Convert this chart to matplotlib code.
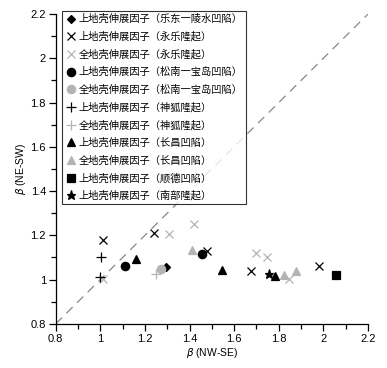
import matplotlib
matplotlib.use("Agg")
import matplotlib.pyplot as plt

plt.rcParams['font.family'] = ['Liberation Sans', 'Noto Sans CJK SC', 'DejaVu Sans']
plt.rcParams['axes.unicode_minus'] = False

# values
ldlsx_up_x = [1.296]
ldlsx_up_y = [1.057]
yl_up_x = [1.01, 1.241, 1.478, 1.677, 1.979]
yl_up_y = [1.18, 1.212, 1.131, 1.039, 1.062]
yl_all_x = [1.012, 1.308, 1.42, 1.70, 1.748, 1.845]
yl_all_y = [1.002, 1.205, 1.252, 1.122, 1.103, 1.003]
snbd_up_x = [1.111, 1.456]
snbd_up_y = [1.062, 1.115]
snbd_all_x = [1.271]
snbd_all_y = [1.048]
sh_up_x = [1.005, 0.998]
sh_up_y = [1.10, 1.011]
sh_all_x = [1.249]
sh_all_y = [1.024]
cc_up_x = [1.162, 1.544, 1.781]
cc_up_y = [1.092, 1.045, 1.015]
cc_all_x = [1.413, 1.824, 1.879]
cc_all_y = [1.134, 1.021, 1.039]
sd_up_x = [2.057]
sd_up_y = [1.021]
nb_up_x = [1.757]
nb_up_y = [1.023]

labels = [
    "上地壳伸展因子（乐东一陵水凹陷）",
    "上地壳伸展因子（永乐隆起）",
    "全地壳伸展因子（永乐隆起）",
    "上地壳伸展因子（松南一宝岛凹陷）",
    "全地壳伸展因子（松南一宝岛凹陷）",
    "上地壳伸展因子（神狐隆起）",
    "全地壳伸展因子（神狐隆起）",
    "上地壳伸展因子（长昌凹陷）",
    "全地壳伸展因子（长昌凹陷）",
    "上地壳伸展因子（顺德凹陷）",
    "上地壳伸展因子（南部隆起）",
]

black = "black"
gray = "#b4b4b4"

series = [
    (ldlsx_up_x, ldlsx_up_y, "D", black, 4.5),
    (yl_up_x, yl_up_y, "x", black, 6),
    (yl_all_x, yl_all_y, "x", gray, 6),
    (snbd_up_x, snbd_up_y, "o", black, 6),
    (snbd_all_x, snbd_all_y, "o", gray, 6),
    (sh_up_x, sh_up_y, "+", black, 6.5),
    (sh_all_x, sh_all_y, "+", gray, 6.5),
    (cc_up_x, cc_up_y, "^", black, 5.5),
    (cc_all_x, cc_all_y, "^", gray, 5.5),
    (sd_up_x, sd_up_y, "s", black, 6),
    (nb_up_x, nb_up_y, "*", black, 6.5),
]

fig = plt.figure(figsize=(3.87, 3.68), dpi=100)
ax = fig.add_axes([0.144, 0.12, 0.807, 0.842])

# 1:1 reference line
ax.plot([0.8, 2.2], [0.8, 2.2], color="#888888", lw=0.9, dashes=(7, 5), zorder=1)

for (xs, ys, m, c, s), lab in zip(series, labels):
    ax.plot(xs, ys, linestyle="none", marker=m, color=c, markersize=s,
            markeredgewidth=0.9, label=lab, zorder=3)

ax.set_xlim(0.8, 2.2)
ax.set_ylim(0.8, 2.2)
ax.set_xticks([0.8, 1, 1.2, 1.4, 1.6, 1.8, 2, 2.2])
ax.set_xticklabels(["0.8", "1", "1.2", "1.4", "1.6", "1.8", "2", "2.2"])
ax.set_yticks([0.8, 1, 1.2, 1.4, 1.6, 1.8, 2, 2.2])
ax.set_yticklabels(["0.8", "1", "1.2", "1.4", "1.6", "1.8", "2", "2.2"])
ax.set_xticks([0.9, 1.1, 1.3, 1.5, 1.7, 1.9, 2.1], minor=True)
ax.set_yticks([0.9, 1.1, 1.3, 1.5, 1.7, 1.9, 2.1], minor=True)
ax.tick_params(which="major", direction="out", length=5, width=0.9, labelsize=8, pad=2)
ax.tick_params(which="minor", direction="out", length=3.5, width=0.9)

ax.spines["top"].set_visible(False)
ax.spines["right"].set_visible(False)
ax.spines["left"].set_linewidth(0.9)
ax.spines["bottom"].set_linewidth(0.9)

ax.set_xlabel(r"$\beta$ (NW-SE)", fontsize=7.5, labelpad=2)
ax.set_ylabel(r"$\beta$ (NE-SW)", fontsize=7.5, labelpad=2)

leg = ax.legend(loc="upper left", bbox_to_anchor=(0.02, 1.01), fontsize=7.4,
                frameon=True, fancybox=False, edgecolor="black",
                borderpad=0.3, labelspacing=0.72, handletextpad=0.1,
                handlelength=1.2, borderaxespad=0)
leg.get_frame().set_linewidth(0.8)
for t in leg.get_texts():
    t.set_fontfamily(["Noto Sans CJK SC", "DejaVu Sans"])

fig.savefig("out.png", dpi=100)
